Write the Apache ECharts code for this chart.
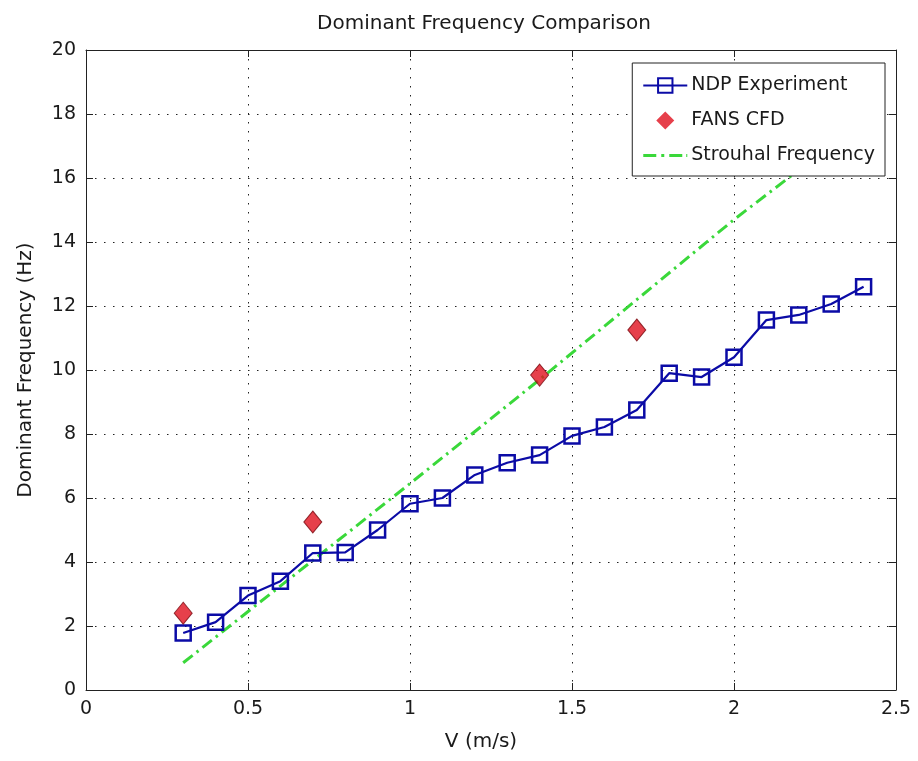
<!DOCTYPE html>
<html>
<head>
<meta charset="utf-8">
<title>Dominant Frequency Comparison</title>
<script src="https://cdn.jsdelivr.net/npm/echarts@6/dist/echarts.min.js"></script>
<style>
  html, body { margin: 0; padding: 0; background: #fff; }
  #chart { width: 918px; height: 761px; }
</style>
</head>
<body>
<div id="chart"></div>
<script>
// Flow speed (m/s) for the tank measurements
const ndpSpeed = [0.3, 0.4, 0.5, 0.6, 0.7, 0.8, 0.9, 1.0, 1.1, 1.2, 1.3, 1.4, 1.5, 1.6, 1.7, 1.8, 1.9, 2.0, 2.1, 2.2, 2.3, 2.4];
// Measured dominant frequency (Hz)
const ndpFreq = [1.78, 2.12, 2.95, 3.4, 4.28, 4.3, 5.0, 5.82, 6.0, 6.72, 7.1, 7.34, 7.94, 8.22, 8.75, 9.9, 9.78, 10.4, 11.56, 11.72, 12.06, 12.6];

// CFD predictions
const cfdSpeed = [0.3, 0.7, 1.4, 1.7];
const cfdFreq = [2.4, 5.25, 9.84, 11.25];

// Strouhal estimate
const strouhalSpeed = [0.3, 1.0, 1.4, 1.7, 2.0, 2.2];
const strouhalFreq = [0.85, 6.45, 9.7, 12.2, 14.7, 16.25];

const seriesNames = ['NDP Experiment', 'FANS CFD', 'Strouhal Frequency'];

const pairs = (xs, ys) => xs.map((x, i) => [x, ys[i]]);

const FONT = '"DejaVu Sans", Verdana, sans-serif';
const TEXT = '#1a1a1a';
const BLUE = '#0b0ba6';
const RED = '#e0101e';
const GREEN = '#3ad83a';
const gridDots = { show: true, lineStyle: { color: '#222', width: 1, type: [1.5, 7.5] } };

// Legend glyphs on a 44x18 box (tiny corner marks fix the bounding box)
const BOX = 'M0,0h0.01v0.01h-0.01z M44,18h-0.01v-0.01h0.01z ';
const diamondIcon = 'path://' + BOX + 'M22,0 L31,9 L22,18 L13,9 Z';
const dashDotIcon = 'path://' + BOX + 'M0,7.5h13v3h-13z M18,7.5h3v3h-3z M26,7.5h13v3h-13z M43,7.5h1v3h-1z';

const chart = echarts.init(document.getElementById('chart'), null, { renderer: 'canvas' });

chart.setOption({
  backgroundColor: '#ffffff',
  animation: false,
  title: {
    text: 'Dominant Frequency Comparison',
    left: 479, top: 9, textAlign: 'center',
    textStyle: { fontFamily: FONT, fontSize: 20, fontWeight: 'normal', color: TEXT }
  },
  grid: { left: 86, right: 22, top: 50, bottom: 71, containLabel: false },
  legend: {
    orient: 'vertical',
    right: 33, top: 63,
    data: [
      { name: seriesNames[0] },
      { name: seriesNames[1], icon: diamondIcon, itemStyle: { borderWidth: 0 } },
      { name: seriesNames[2], icon: dashDotIcon, itemStyle: { borderWidth: 0 } }
    ],
    itemWidth: 44, itemHeight: 18,
    itemGap: 16,
    padding: [13, 10, 11, 10],
    backgroundColor: '#fff',
    borderColor: '#222', borderWidth: 1,
    textStyle: { fontFamily: FONT, fontSize: 19, lineHeight: 18, color: TEXT, padding: [0, 0, 0, -1] }
  },
  xAxis: [{
    type: 'value', min: 0, max: 2.5, interval: 0.5,
    name: 'V (m/s)', nameLocation: 'middle', nameGap: 42,
    nameTextStyle: { fontFamily: FONT, fontSize: 20, color: TEXT, padding: [0, 20, 0, 0] },
    axisLine: { show: true, lineStyle: { color: '#222', width: 1 } },
    axisTick: { show: true, inside: true, length: 7, lineStyle: { color: '#222' } },
    axisLabel: { fontFamily: FONT, fontSize: 19, color: TEXT, margin: 10 },
    splitLine: gridDots
  }, {
    type: 'value', min: 0, max: 2.5, interval: 0.5, position: 'top',
    axisLine: { show: true, onZero: false, lineStyle: { color: '#222', width: 1 } },
    axisTick: { show: true, inside: true, length: 7, lineStyle: { color: '#222' } },
    axisLabel: { show: false }, splitLine: { show: false }
  }],
  yAxis: [{
    type: 'value', min: 0, max: 20, interval: 2,
    name: 'Dominant Frequency (Hz)', nameLocation: 'middle', nameGap: 50,
    nameTextStyle: { fontFamily: FONT, fontSize: 20, color: TEXT },
    axisLine: { show: true, lineStyle: { color: '#222', width: 1 } },
    axisTick: { show: true, inside: true, length: 7, lineStyle: { color: '#222' } },
    axisLabel: { fontFamily: FONT, fontSize: 19, color: TEXT, margin: 10 },
    splitLine: gridDots
  }, {
    type: 'value', min: 0, max: 20, interval: 2, position: 'right',
    axisLine: { show: true, onZero: false, lineStyle: { color: '#222', width: 1 } },
    axisTick: { show: true, inside: true, length: 7, lineStyle: { color: '#222' } },
    axisLabel: { show: false }, splitLine: { show: false }
  }],
  series: [{
    name: seriesNames[0],
    type: 'line',
    data: pairs(ndpSpeed, ndpFreq),
    z: 3,
    lineStyle: { color: BLUE, width: 2.2 },
    symbol: 'rect', symbolSize: 15,
    itemStyle: { color: 'rgba(255,255,255,0)', borderColor: BLUE, borderWidth: 2.5 }
  }, {
    name: seriesNames[1],
    type: 'scatter',
    data: pairs(cfdSpeed, cfdFreq),
    z: 4,
    symbol: 'diamond', symbolSize: [18, 22],
    itemStyle: { color: RED, borderColor: '#7a0a10', borderWidth: 1 }
  }, {
    name: seriesNames[2],
    type: 'line',
    data: pairs(strouhalSpeed, strouhalFreq),
    z: 2,
    showSymbol: false, symbol: 'none',
    lineStyle: { color: GREEN, width: 3, type: [12, 5, 2.5, 5] },
    itemStyle: { color: GREEN }
  }]
});
</script>
</body>
</html>
